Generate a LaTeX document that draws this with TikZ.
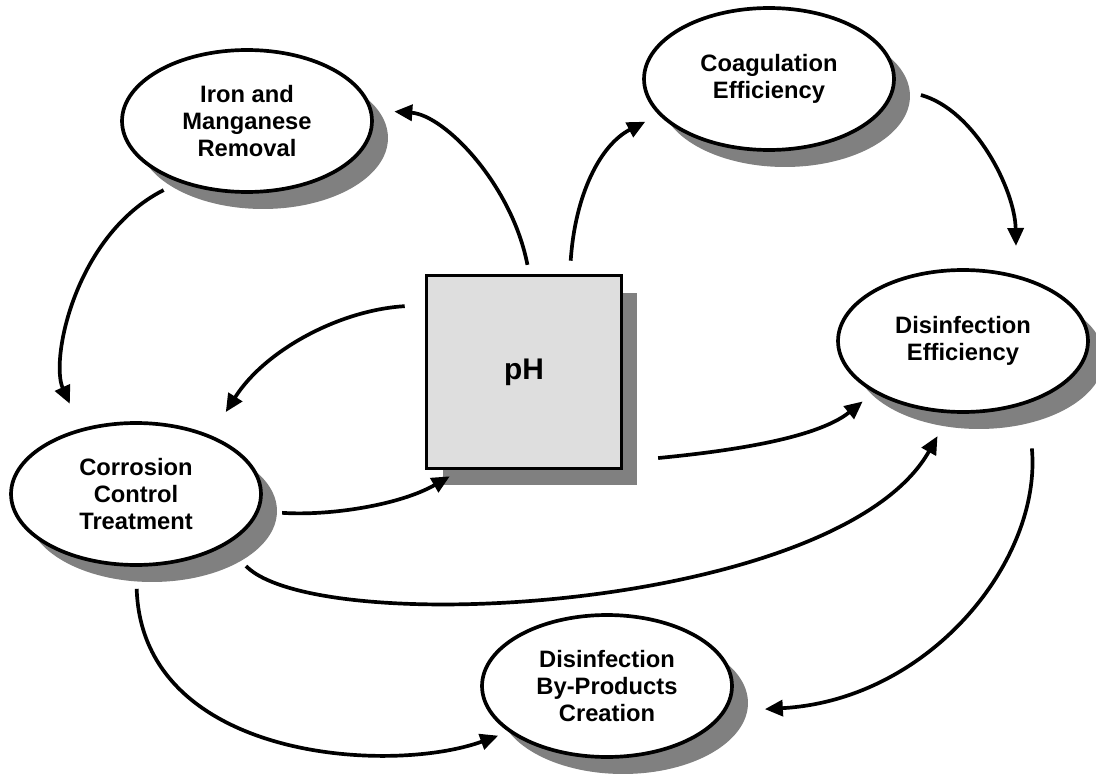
\documentclass[tikz,border=0pt]{standalone}
\usepackage{fontspec}
\setmainfont{Liberation Sans}
\usetikzlibrary{shapes.geometric,shadows,arrows.meta}

\tikzset{
  bubble/.style={ellipse, draw, line width=2.1pt, fill=white,
    minimum width=5cm, minimum height=2.84cm, inner sep=0pt, align=center,
    font=\bfseries\fontsize{13.5}{15.5}\selectfont,
    drop shadow={shadow xshift=0.32cm, shadow yshift=-0.34cm, fill=black!50, opacity=1}},
  phbox/.style={rectangle, draw, line width=2.1pt, fill=black!13,
    minimum width=3.9cm, minimum height=3.86cm,
    font=\bfseries\fontsize{17}{20}\selectfont,
    drop shadow={shadow xshift=0.32cm, shadow yshift=-0.34cm, fill=black!50, opacity=1}},
  link/.style={line width=2.1pt, -{Triangle[length=0.36cm,width=0.32cm]}}
}

\begin{document}
\begin{tikzpicture}[x=0.02cm, y=-0.02cm]
        \useasboundingbox (0,0) rectangle (1096,777);
        % the centre box
        \node[phbox] (ph) at (524,372) {pH};
        % the five processes round it
        \node[bubble] (iron) at (247,121) {Iron and\\Manganese\\Removal};
        \node[bubble] (coag) at (769,79) {Coagulation\\Efficiency};
        \node[bubble] (diseff) at (963,341) {Disinfection\\Efficiency};
        \node[bubble] (corr) at (136,494) {Corrosion\\Control\\Treatment};
        \node[bubble] (dbp) at (607,686) {Disinfection\\By-Products\\Creation};
        % links
        \draw[link, shorten <=0.18cm, shorten >=0.44cm] (ph.87) .. controls (512,185) and (445,115) .. (iron.5);
        \draw[link, shorten <=0.26cm, shorten >=0.3cm] (ph.65) .. controls (575,195) and (600,145) .. (coag.198);
        \draw[link, shorten <=0.54cm, shorten >=0.58cm] (coag.356) .. controls (975,110) and (1015,190) .. (diseff.51);
        \draw[link, shorten <=0.34cm, shorten >=0.54cm] (iron.222) .. controls (75,235) and (50,360) .. (corr.130);
        \draw[link, shorten <=0.4cm, shorten >=0.55cm] (ph.146) .. controls (340,310) and (265,350) .. (corr.38);
        \draw[link, shorten <=0.46cm, shorten >=0.24cm] (corr.352) .. controls (330,516) and (400,505) .. (ph.237);
        \draw[link, shorten <=0.7cm, shorten >=0.28cm] (ph.318) .. controls (720,452) and (815,440) .. (diseff.210);
        \draw[link, shorten <=0.58cm, shorten >=0.52cm] (corr.330) .. controls (320,640) and (840,610) .. (diseff.260);
        \draw[link, shorten <=0.9cm, shorten >=0.78cm] (diseff.316) .. controls (1042,560) and (930,700) .. (dbp.348);
        \draw[link, shorten <=0.44cm, shorten >=0.22cm] (corr.south) .. controls (142,760) and (390,775) .. (dbp.205);
\end{tikzpicture}
\end{document}
